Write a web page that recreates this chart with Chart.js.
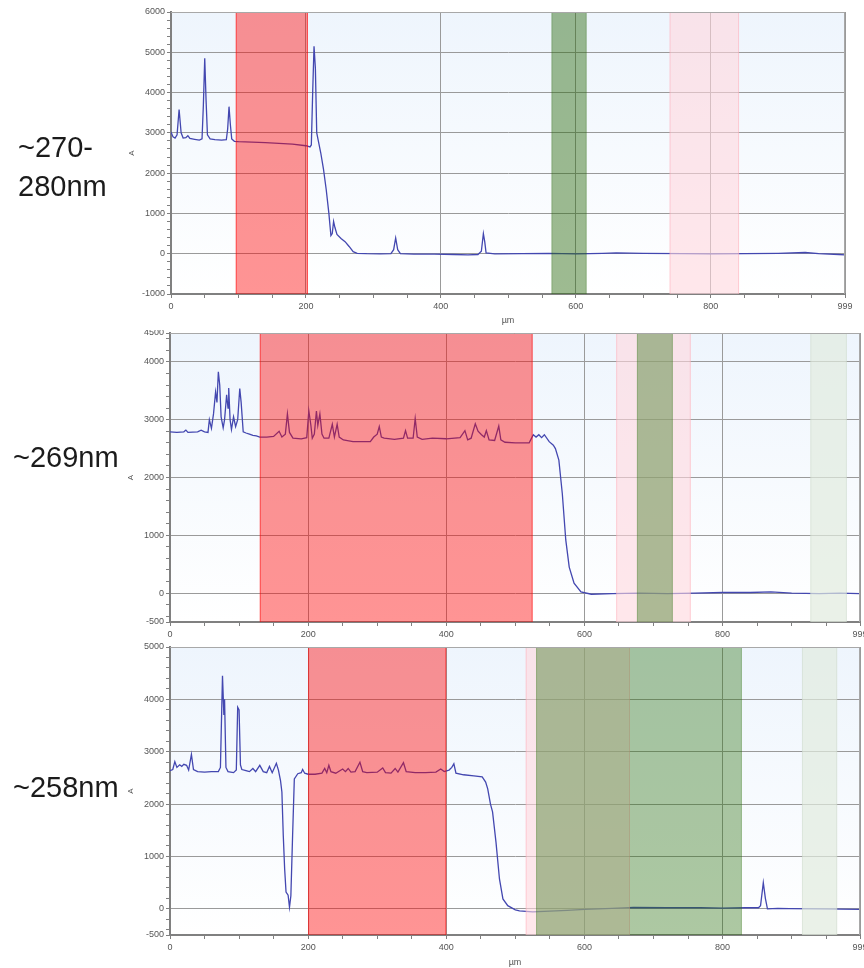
<!DOCTYPE html>
<html>
<head>
<meta charset="utf-8">
<script src="https://cdn.jsdelivr.net/npm/chart.js@4.4.1/dist/chart.umd.min.js"></script>
<style>
  body { margin: 0; background: #fff; width: 864px; height: 968px; position: relative; overflow: hidden; font-family: "Liberation Sans", Arial, sans-serif; }
  .wrap { position: absolute; left: 0; width: 864px; }
  .lbl { position: absolute; font-size: 29px; line-height: 39px; color: #1b1b1b; white-space: nowrap; }
</style>
</head>
<body>
<div class="wrap" style="top:0px;height:330px"><canvas id="c1" width="864" height="330"></canvas></div>
<div class="wrap" style="top:330px;height:312px"><canvas id="c2" width="864" height="312"></canvas></div>
<div class="wrap" style="top:642px;height:326px"><canvas id="c3" width="864" height="326"></canvas></div>
<div class="lbl" style="left:18px;top:128px">~270-<br>280nm</div>
<div class="lbl" style="left:13px;top:438px">~269nm</div>
<div class="lbl" style="left:13px;top:768px">~258nm</div>
<script>
// axis ticks
const xMajor = [0, 200, 400, 600, 800, 999];
const xMinorStep = 50;
const yMinorStep = 200;
const yMajor1 = [-1000, 0, 1000, 2000, 3000, 4000, 5000, 6000];
const yMajor2 = [-500, 0, 1000, 2000, 3000, 4000, 4500];
const yMajor3 = [-500, 0, 1000, 2000, 3000, 4000, 5000];

// ~270-280nm  (position in µm, absorbance A)
const pos1 = [0, 3, 6, 9, 12, 15, 18, 22, 25, 28, 35, 42, 46, 48, 50, 52, 54, 58, 65, 75,
  82, 84, 86, 88, 90, 94, 100, 120, 140, 160, 180, 200, 206, 208, 210, 212, 214, 216, 218, 222,
  226, 230, 234, 237, 239, 241, 243, 246, 252, 258, 264, 270, 276, 290, 310, 326, 330, 333, 336, 340,
  360, 390, 420, 440, 455, 460, 463, 465, 467, 480, 520, 560, 600, 640, 660, 700, 760, 800, 850, 900,
  940, 960, 990, 999];
const abs1 = [3020, 2900, 2870, 2950, 3580, 3000, 2870, 2880, 2930, 2860, 2840, 2820, 2850, 3700, 4850, 3800, 2950, 2850, 2830, 2820,
  2830, 3100, 3650, 3200, 2850, 2790, 2780, 2770, 2760, 2740, 2720, 2680, 2650, 2700, 4000, 5150, 4600, 3000, 2830, 2500,
  2100, 1600, 1000, 450, 500, 800, 650, 480, 380, 300, 180, 50, 10, 0, -5, 0, 100, 390, 100, 0,
  -10, -10, -20, -30, -20, 60, 500, 300, 20, -5, 0, 10, -5, 10, 20, 10, 0, -5, 0, 10,
  30, 0, -20, -30];

// ~269nm
const pos2 = [0, 10, 20, 23, 26, 40, 45, 50, 55, 57, 60, 63, 66, 68, 70, 72, 74, 77, 79, 82,
  84, 85, 87, 89, 92, 95, 98, 101, 103, 106, 110, 115, 120, 125, 130, 140, 150, 158, 162, 167,
  170, 173, 178, 190, 198, 201, 204, 206, 209, 212, 214, 217, 220, 223, 230, 235, 238, 242, 245, 251,
  265, 290, 295, 300, 303, 306, 310, 325, 338, 341, 344, 352, 355, 358, 365, 380, 400, 420, 427, 431,
  436, 442, 446, 451, 455, 458, 462, 470, 476, 479, 485, 500, 520, 526, 530, 534, 538, 542, 549, 555,
  558, 563, 568, 573, 578, 585, 595, 610, 640, 680, 720, 760, 800, 840, 870, 900, 940, 970, 999];
const abs2 = [2790, 2780, 2790, 2820, 2780, 2790, 2820, 2790, 2780, 3000, 2850, 3100, 3480, 3300, 3830, 3600, 3050, 2860, 3000, 3430,
  3200, 3550, 3000, 2830, 3050, 2880, 3000, 3540, 3300, 2790, 2770, 2750, 2730, 2720, 2700, 2700, 2710, 2800, 2700, 2750,
  3100, 2780, 2680, 2670, 2690, 3150, 2900, 2680, 2750, 3150, 2900, 3100, 2750, 2680, 2680, 2920, 2700, 2920, 2700, 2650,
  2620, 2620, 2700, 2750, 2880, 2700, 2680, 2660, 2680, 2810, 2680, 2680, 3020, 2700, 2660, 2680, 2670, 2690, 2810, 2650,
  2680, 2930, 2800, 2740, 2700, 2810, 2650, 2640, 2890, 2650, 2610, 2600, 2600, 2740, 2700, 2740, 2690, 2740, 2620, 2560,
  2500, 2300, 1720, 920, 450, 170, 20, -20, -10, 0, -10, 0, 10, 10, 20, 0, -10, 0, -10];

// ~258nm
const pos3 = [0, 4, 7, 10, 14, 17, 20, 24, 27, 31, 34, 40, 50, 60, 70, 73, 76, 78, 79, 81,
  84, 92, 96, 98, 100, 102, 104, 110, 115, 120, 124, 130, 135, 140, 144, 148, 154, 157, 160, 162,
  164, 166, 168, 171, 173, 175, 177.5, 180, 185, 190, 192, 195, 200, 210, 220, 224, 227, 230, 233, 240,
  250, 254, 258, 262, 268, 275, 279, 285, 300, 308, 312, 320, 326, 330, 338, 342, 355, 370, 385, 392,
  397, 404, 408, 411, 414, 425, 440, 452, 457, 460, 464, 467, 472, 477, 482, 489, 500, 506, 525, 550,
  575, 600, 640, 671, 720, 768, 800, 833, 852, 855, 859, 862, 865, 880, 897, 940, 970, 999];
const abs3 = [2640, 2660, 2810, 2700, 2750, 2720, 2760, 2740, 2650, 2950, 2660, 2620, 2610, 2620, 2620, 2700, 4450, 3700, 4000, 2700,
  2620, 2600, 2650, 3850, 3800, 2750, 2660, 2640, 2620, 2680, 2620, 2740, 2620, 2600, 2720, 2600, 2780, 2650, 2450, 2230,
  1400, 760, 320, 260, 30, 250, 1400, 2480, 2580, 2600, 2660, 2590, 2570, 2570, 2590, 2680, 2600, 2740, 2620, 2590,
  2670, 2620, 2680, 2610, 2620, 2800, 2620, 2600, 2610, 2690, 2600, 2590, 2680, 2610, 2790, 2620, 2600, 2600, 2610, 2670,
  2620, 2650, 2700, 2770, 2590, 2560, 2540, 2520, 2420, 2290, 2000, 1850, 1270, 570, 190, 60, -20, -40, -57, -45,
  -30, -10, 10, 25, 20, 20, 15, 20, 20, 60, 500, 200, 0, 10, 5, 0, -5, -10];

// marked regions (µm)
const bandStart1 = [96, 564, 739];
const bandEnd1 = [203, 616, 842];
const bandKind1 = ['red', 'darkgreen', 'pink'];
const bandStart2 = [130, 646, 676, 927];
const bandEnd2 = [525, 754, 728, 980];
const bandKind2 = ['red', 'pink', 'green', 'grey'];
const bandStart3 = [200, 515, 530, 915];
const bandEnd3 = [400, 666, 828, 966];
const bandKind3 = ['red', 'pink', 'green', 'grey'];

const bandFill = {
  red: 'rgba(255,0,0,0.42)',
  pink: 'rgba(255,215,222,0.6)',
  green: 'rgba(40,110,10,0.38)',
  darkgreen: 'rgba(40,105,10,0.45)',
  grey: 'rgba(225,235,222,0.7)'
};
const bandEdge = {
  red: 'rgba(255,0,0,0.5)',
  pink: 'rgba(255,120,140,0.25)',
  green: 'rgba(40,110,10,0.2)',
  darkgreen: 'rgba(40,105,10,0.2)',
  grey: 'rgba(150,170,150,0.15)'
};

function buildTicks(majors, min, max, step) {
  const vals = new Set(majors);
  for (let v = Math.ceil(min / step) * step; v <= max; v += step) vals.add(v);
  return Array.from(vals).sort((a, b) => a - b);
}

const bgPlugin = {
  id: 'bg',
  beforeDraw(chart) {
    const a = chart.chartArea, ctx = chart.ctx;
    const g = ctx.createLinearGradient(0, a.top, 0, a.bottom);
    g.addColorStop(0, '#eef5fd');
    g.addColorStop(1, '#ffffff');
    ctx.save();
    ctx.fillStyle = g;
    ctx.fillRect(a.left, a.top, a.right - a.left, a.bottom - a.top);
    ctx.restore();
  }
};

const bandPlugin = {
  id: 'bands',
  afterDatasetsDraw(chart, args, opts) {
    const a = chart.chartArea, ctx = chart.ctx, x = chart.scales.x;
    ctx.save();
    opts.start.forEach((s, i) => {
      const x0 = x.getPixelForValue(s), x1 = x.getPixelForValue(opts.end[i]);
      const k = opts.kind[i];
      ctx.fillStyle = bandFill[k];
      ctx.fillRect(x0, a.top, x1 - x0, a.bottom - a.top);
      ctx.strokeStyle = bandEdge[k];
      ctx.lineWidth = 1;
      ctx.beginPath();
      ctx.moveTo(x0 + 0.5, a.top); ctx.lineTo(x0 + 0.5, a.bottom);
      ctx.moveTo(x1 - 0.5, a.top); ctx.lineTo(x1 - 0.5, a.bottom);
      ctx.stroke();
    });
    ctx.restore();
  }
};

const framePlugin = {
  id: 'frame',
  afterDraw(chart) {
    const a = chart.chartArea, ctx = chart.ctx;
    ctx.save();
    ctx.strokeStyle = '#a8a8a8';
    ctx.lineWidth = 1;
    ctx.beginPath();
    ctx.moveTo(a.left, a.top + 0.5); ctx.lineTo(a.right - 0.5, a.top + 0.5); ctx.lineTo(a.right - 0.5, a.bottom);
    ctx.stroke();
    ctx.restore();
  }
};

function panel(id, xs, ys, cfg) {
  const pts = xs.map((x, i) => ({ x: x, y: ys[i] }));
  const xTicks = buildTicks(xMajor, 0, 999, xMinorStep);
  const yTicks = buildTicks(cfg.yMajor, cfg.yMin, cfg.yMax, yMinorStep);
  const tickFont = { family: 'Liberation Sans', size: 9 };
  return new Chart(document.getElementById(id), {
    type: 'line',
    data: { datasets: [{ data: pts, borderColor: '#4347b0', borderWidth: 1.3, pointRadius: 0, tension: 0 }] },
    options: {
      responsive: false,
      animation: false,
      layout: { padding: { left: cfg.left, right: cfg.right, top: cfg.top, bottom: 0 } },
      plugins: {
        legend: { display: false },
        tooltip: { enabled: false },
        bands: { start: cfg.bandStart, end: cfg.bandEnd, kind: cfg.bandKind }
      },
      scales: {
        x: {
          type: 'linear', min: 0, max: 999,
          afterBuildTicks: s => { s.ticks = xTicks.map(v => ({ value: v })); },
          afterFit: s => { s.height = cfg.xh; s.paddingLeft = 0; s.paddingRight = 0; },
          ticks: {
            autoSkip: false, maxRotation: 0, padding: 3, color: '#555', font: tickFont,
            callback: v => xMajor.includes(v) ? String(v) : ''
          },
          grid: {
            color: c => (c.tick && xMajor.includes(c.tick.value)) ? '#9a9a9a' : 'rgba(0,0,0,0)',
            tickColor: '#808080', tickLength: 4, lineWidth: 1
          },
          border: { display: true, color: '#808080', width: 2 },
          title: { display: cfg.xTitle, text: 'µm', color: '#555', font: tickFont, padding: { top: 0, bottom: cfg.titlePad } }
        },
        y: {
          min: cfg.yMin, max: cfg.yMax,
          afterBuildTicks: s => { s.ticks = yTicks.map(v => ({ value: v })); },
          afterFit: s => { s.width = 44; s.paddingTop = 0; s.paddingBottom = 0; },
          ticks: {
            autoSkip: false, padding: 2, color: '#555', font: tickFont,
            callback: v => cfg.yMajor.includes(v) ? String(v) : ''
          },
          grid: {
            color: c => (c.tick && cfg.yMajor.includes(c.tick.value)) ? '#9a9a9a' : 'rgba(0,0,0,0)',
            tickColor: '#808080', tickLength: 4, lineWidth: 1
          },
          border: { display: true, color: '#808080', width: 2 },
          title: { display: true, text: 'A', color: '#555', font: { family: 'Liberation Sans', size: 8 }, padding: 0 }
        }
      }
    },
    plugins: [bgPlugin, bandPlugin, framePlugin]
  });
}

panel('c1', pos1, abs1, {
  yMin: -1000, yMax: 6000, yMajor: yMajor1, left: 127, right: 19, top: 12, xh: 36, xTitle: true, titlePad: 4.5,
  bandStart: bandStart1, bandEnd: bandEnd1, bandKind: bandKind1
});
panel('c2', pos2, abs2, {
  yMin: -500, yMax: 4500, yMajor: yMajor2, left: 126, right: 4, top: 3, xh: 20, xTitle: false, titlePad: 0,
  bandStart: bandStart2, bandEnd: bandEnd2, bandKind: bandKind2
});
panel('c3', pos3, abs3, {
  yMin: -500, yMax: 5000, yMajor: yMajor3, left: 126, right: 4, top: 5, xh: 33, xTitle: true, titlePad: 0,
  bandStart: bandStart3, bandEnd: bandEnd3, bandKind: bandKind3
});
</script>
</body>
</html>
